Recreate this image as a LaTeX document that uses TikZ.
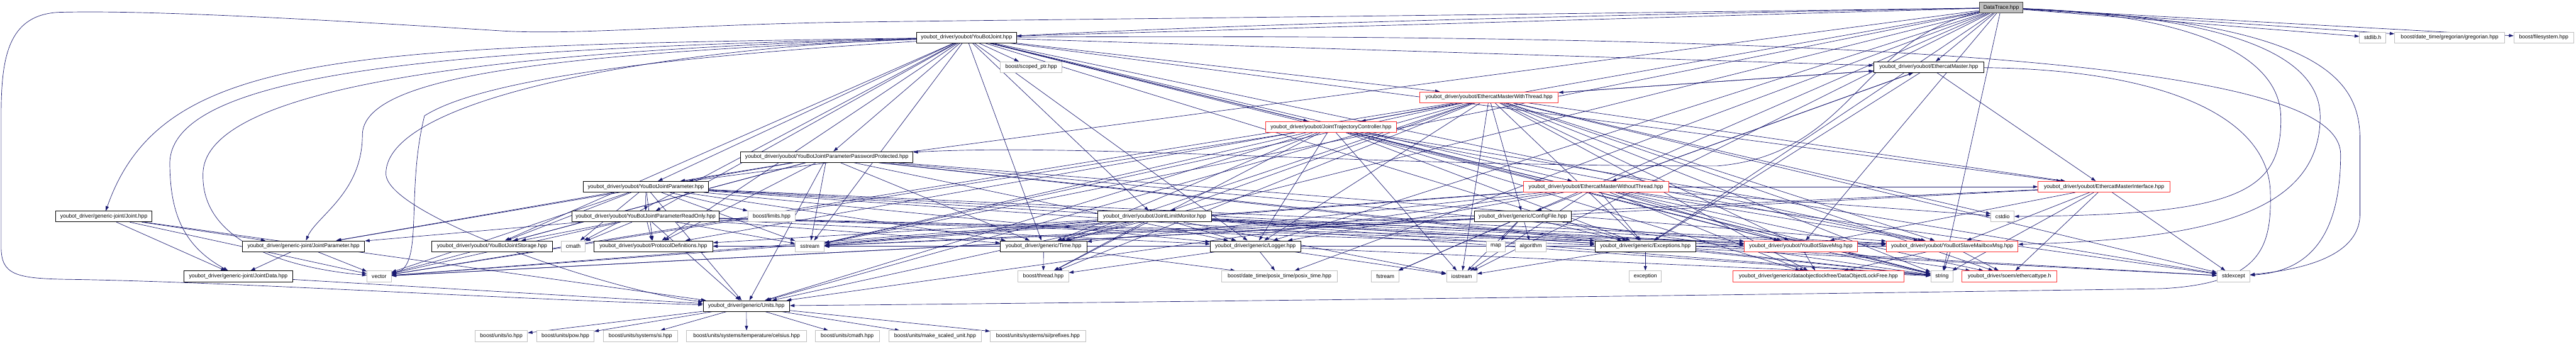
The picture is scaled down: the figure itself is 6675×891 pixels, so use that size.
\documentclass[tikz,border=0pt]{standalone}
\usepackage{fontspec}
\setmainfont{Liberation Sans}
\usetikzlibrary{arrows.meta}
\pgfdeclarelayer{bg}
\pgfsetlayers{bg,main}
\definecolor{edgec}{HTML}{191970}
\definecolor{sysc}{HTML}{BFBFBF}
\definecolor{redc}{HTML}{FF3030}
\definecolor{rootfill}{HTML}{BFBFBF}
\definecolor{rootdraw}{HTML}{404040}
\begin{document}
\begin{tikzpicture}[x=1pt,y=-1pt,
  nd/.style={draw=black, line width=1.3pt, fill=white, minimum height=28pt, inner sep=0pt, font=\fontsize{14}{16}\selectfont},
  sys/.style={nd, draw=sysc},
  rd/.style={nd, draw=redc},
  root/.style={nd, fill=rootfill, draw=rootdraw},
  e/.style={-{Triangle[length=12pt,width=8pt]}, draw=edgec, line width=1.1pt}]
\useasboundingbox (0,0) rectangle (6675,891);
% row 0
\node[root, minimum width=113pt] (DT) at (5185.5,20) {DataTrace.hpp};
% row 1
\node[nd, minimum width=259pt] (YBJ) at (2504.5,97) {youbot\_driver/youbot/YouBotJoint.hpp};
\node[sys, minimum width=68pt] (stdlib) at (6148,97) {stdlib.h};
\node[sys, minimum width=285pt] (greg) at (6347.5,97) {boost/date\_time/gregorian/gregorian.hpp};
\node[sys, minimum width=155pt] (fs) at (6591.5,97) {boost/filesystem.hpp};
% row 2
\node[sys, minimum width=160pt] (scoped) at (2672,174) {boost/scoped\_ptr.hpp};
\node[nd, minimum width=286pt] (EM) at (4998,174) {youbot\_driver/youbot/EthercatMaster.hpp};
% row 3
\node[rd, minimum width=359pt] (EMWT) at (3858.5,252) {youbot\_driver/youbot/EthercatMasterWithThread.hpp};
% row 4
\node[rd, minimum width=338pt] (JTC) at (3449,329) {youbot\_driver/youbot/JointTrajectoryController.hpp};
% row 5
\node[nd, minimum width=447pt] (PP) at (2142.5,407) {youbot\_driver/youbot/YouBotJointParameterPasswordProtected.hpp};
% row 6
\node[nd, minimum width=325pt] (YBJP) at (1673.5,484) {youbot\_driver/youbot/YouBotJointParameter.hpp};
\node[rd, minimum width=377pt] (EMWO) at (4135.5,484) {youbot\_driver/youbot/EthercatMasterWithoutThread.hpp};
\node[rd, minimum width=342pt] (EMI) at (5452,484) {youbot\_driver/youbot/EthercatMasterInterface.hpp};
% row 7
\node[nd, minimum width=250pt] (Joint) at (269,561) {youbot\_driver/generic-joint/Joint.hpp};
\node[nd, minimum width=382pt] (RO) at (1673,561) {youbot\_driver/youbot/YouBotJointParameterReadOnly.hpp};
\node[sys, minimum width=123pt] (limits) at (1999.5,561) {boost/limits.hpp};
\node[nd, minimum width=294pt] (JLM) at (2992,561) {youbot\_driver/youbot/JointLimitMonitor.hpp};
\node[nd, minimum width=252pt] (CF) at (3946,561) {youbot\_driver/generic/ConfigFile.hpp};
\node[sys, minimum width=60pt] (cstdio) at (5189,561) {cstdio};
% row 8
\node[nd, minimum width=317pt] (JP) at (786.5,638) {youbot\_driver/generic-joint/JointParameter.hpp};
\node[nd, minimum width=312pt] (JS) at (1275,638) {youbot\_driver/youbot/YouBotJointStorage.hpp};
\node[sys, minimum width=63pt] (cmath) at (1485.5,638) {cmath};
\node[nd, minimum width=308pt] (PD) at (1693,638) {youbot\_driver/youbot/ProtocolDefinitions.hpp};
\node[sys, minimum width=75pt] (sstream) at (2098.5,638) {sstream};
\node[nd, minimum width=224pt] (Time) at (2704,638) {youbot\_driver/generic/Time.hpp};
\node[nd, minimum width=234pt] (Logger) at (3253,638) {youbot\_driver/generic/Logger.hpp};
\node[sys, minimum width=50pt] (map) at (3876,638) {map};
\node[sys, minimum width=81pt] (algo) at (3966.5,638) {algorithm};
\node[nd, minimum width=261pt] (Exc) at (4263.5,638) {youbot\_driver/generic/Exceptions.hpp};
\node[rd, minimum width=293pt] (SM) at (4666.5,638) {youbot\_driver/youbot/YouBotSlaveMsg.hpp};
\node[rd, minimum width=341pt] (SMM) at (5058.5,638) {youbot\_driver/youbot/YouBotSlaveMailboxMsg.hpp};
% row 9
\node[nd, minimum width=283pt] (JD) at (617.5,716) {youbot\_driver/generic-joint/JointData.hpp};
\node[sys, minimum width=63pt] (vector) at (982.5,716) {vector};
\node[sys, minimum width=131pt] (thread) at (2703.5,716) {boost/thread.hpp};
\node[sys, minimum width=301pt] (posix) at (3315.5,716) {boost/date\_time/posix\_time/posix\_time.hpp};
\node[sys, minimum width=71pt] (fstream) at (3589.5,716) {fstream};
\node[sys, minimum width=79pt] (iostream) at (3787.5,716) {iostream};
\node[sys, minimum width=83pt] (exception) at (4263.5,716) {exception};
\node[rd, minimum width=442pt] (DOLF) at (4712,716) {youbot\_driver/generic/dataobjectlockfree/DataObjectLockFree.hpp};
\node[sys, minimum width=58pt] (string) at (5032,716) {string};
\node[rd, minimum width=246pt] (ect) at (5207,716) {youbot\_driver/soem/ethercattype.h};
\node[sys, minimum width=85pt] (stdexcept) at (5787.5,716) {stdexcept};
% row 10
\node[nd, minimum width=224pt] (Units) at (1934,793) {youbot\_driver/generic/Units.hpp};
% row 11
\node[sys, minimum width=136pt] (uio) at (1299,871) {boost/units/io.hpp};
\node[sys, minimum width=148pt] (upow) at (1465,871) {boost/units/pow.hpp};
\node[sys, minimum width=193pt] (usi) at (1659.5,871) {boost/units/systems/si.hpp};
\node[sys, minimum width=311pt] (ucel) at (1934.5,871) {boost/units/systems/temperature/celsius.hpp};
\node[sys, minimum width=167pt] (ucmath) at (2195.5,871) {boost/units/cmath.hpp};
\node[sys, minimum width=240pt] (umsu) at (2423,871) {boost/units/make\_scaled\_unit.hpp};
\node[sys, minimum width=247pt] (upref) at (2689.5,871) {boost/units/systems/si/prefixes.hpp};

\begin{pgfonlayer}{bg}
\foreach \s/\t in {
 DT/YBJ, DT/EM, DT/stdlib, DT/greg, DT/fs, DT/sstream, DT/string, DT/fstream, DT/iostream, DT/Logger, DT/Time, DT/Exc, DT/PD, DT/YBJP, DT/SM, DT/posix,
 YBJ/scoped, YBJ/sstream, YBJ/cmath, YBJ/Logger, YBJ/Time, YBJ/Exc, YBJ/PD, YBJ/JS, YBJ/SM, YBJ/SMM, YBJ/EMI, YBJ/EMWT, YBJ/EMWO, YBJ/RO, YBJ/YBJP, YBJ/PP, YBJ/JTC, YBJ/JLM, YBJ/EM, YBJ/string,
 EM/EMWT, EM/EMWO, EM/EMI, EM/Exc,
 EMWT/EM, EMWT/JTC, EMWT/JLM, EMWT/vector, EMWT/sstream, EMWT/string, EMWT/cstdio, EMWT/stdexcept, EMWT/iostream, EMWT/thread, EMWT/Logger, EMWT/Units, EMWT/Time, EMWT/Exc, EMWT/CF, EMWT/EMI, EMWT/SM, EMWT/SMM, EMWT/DOLF, EMWT/ect,
 EMWO/EM, EMWO/vector, EMWO/sstream, EMWO/string, EMWO/cstdio, EMWO/stdexcept, EMWO/iostream, EMWO/Logger, EMWO/Units, EMWO/Time, EMWO/Exc, EMWO/CF, EMWO/EMI, EMWO/SM, EMWO/SMM, EMWO/DOLF, EMWO/ect,
 EMI/vector, EMI/string, EMI/SM, EMI/SMM, EMI/ect, EMI/stdexcept, EMI/sstream,
 JTC/vector, JTC/sstream, JTC/string, JTC/thread, JTC/Logger, JTC/Units, JTC/Time, JTC/Exc, JTC/stdexcept, JTC/iostream, JTC/SM, JTC/SMM, JTC/DOLF,
 JLM/vector, JLM/sstream, JLM/string, JLM/thread, JLM/Logger, JLM/Units, JLM/Time, JLM/Exc, JLM/stdexcept, JLM/iostream, JLM/PD, JLM/SM, JLM/SMM,
 PP/YBJP, PP/PD, PP/JS, PP/Units, PP/Logger, PP/Time, PP/Exc, PP/vector, PP/sstream, PP/string, PP/JP, PP/SM, PP/SMM,
 YBJP/RO, YBJP/limits, YBJP/PD, YBJP/JS, YBJP/cmath, YBJP/sstream, YBJP/vector, YBJP/Logger, YBJP/Units, YBJP/Time, YBJP/Exc, YBJP/JP, YBJP/SM, YBJP/SMM, YBJP/string,
 RO/PD, RO/sstream, RO/Units, RO/JS, RO/Logger, RO/Time, RO/Exc, RO/JP, RO/vector, RO/cmath, RO/SM, RO/SMM,
 Joint/JP, Joint/JD, Joint/vector, Joint/Units,
 JP/JD, JP/vector, JD/Units,
 Units/uio, Units/upow, Units/usi, Units/ucel, Units/ucmath, Units/umsu, Units/upref,
 Time/thread, Time/posix,
 Logger/posix, Logger/thread, Logger/iostream, Logger/sstream, Logger/string,
 CF/map, CF/algo, CF/fstream, CF/iostream, CF/sstream, CF/string, CF/Exc, CF/vector,
 Exc/exception, Exc/iostream, Exc/string, Exc/stdexcept, Exc/sstream,
 SM/DOLF, SM/string, SM/ect, SM/PD,
 SMM/DOLF, SMM/string, SMM/ect, SMM/PD}
 {\draw[e] (\s) -- (\t);}
% long routed connectors
\draw[e] (DT) .. controls (3800,40) and (2600,52) .. (2227,57)
   .. controls (1800,62) and (1500,92) .. (1300,80)
   .. controls (900,55) and (400,25) .. (150,32)
   .. controls (20,40) and (3,150) .. (3,300) -- (3,640)
   .. controls (3,712) and (40,722) .. (180,724)
   .. controls (600,730) and (1300,775) .. (Units);
\draw[e] (EM) .. controls (5600,180) and (5880,300) .. (5883,500)
   .. controls (5886,640) and (5860,735) .. (5600,748)
   .. controls (4500,765) and (2800,785) .. (Units);
\draw[e] (DT) .. controls (5700,40) and (5905,150) .. (5910,300)
   .. controls (5915,500) and (5800,557) .. (cstdio);
\draw[e] (DT) .. controls (5800,45) and (6010,150) .. (6012,300)
   .. controls (6014,560) and (5700,620) .. (SMM);
\draw[e] (DT) .. controls (6000,55) and (6110,200) .. (6115,350) -- (6115,560)
   .. controls (6110,670) and (5950,700) .. (stdexcept);
\draw[e] (YBJ) .. controls (5500,80) and (6065,230) .. (6065,400)
   .. controls (6065,650) and (5950,705) .. (stdexcept);
\draw[e] (DT) .. controls (4818,100) and (4800,400) .. (4450,430)
   .. controls (3500,430) and (2800,370) .. (PP);
\draw[e] (DT) .. controls (3000,60) and (1400,110) .. (1100,300)
   .. controls (1050,500) and (1100,690) .. (vector);
\draw[e] (YBJ) .. controls (900,120) and (420,130) .. (Joint);
\draw[e] (YBJ) .. controls (1200,125) and (450,180) .. (440,420) .. controls (440,560) and (480,640) .. (JD);
\draw[e] (YBJ) .. controls (1300,130) and (530,220) .. (526,450) .. controls (520,650) and (800,700) .. (vector);
\draw[e] (YBJ) .. controls (1400,140) and (940,200) .. (939,350) .. controls (939,500) and (820,560) .. (JP);
\draw[e] (YBJ) .. controls (1800,120) and (1000,240) .. (1000,450) .. controls (1000,560) and (1600,760) .. (Units);
\end{pgfonlayer}
\end{tikzpicture}
\end{document}
